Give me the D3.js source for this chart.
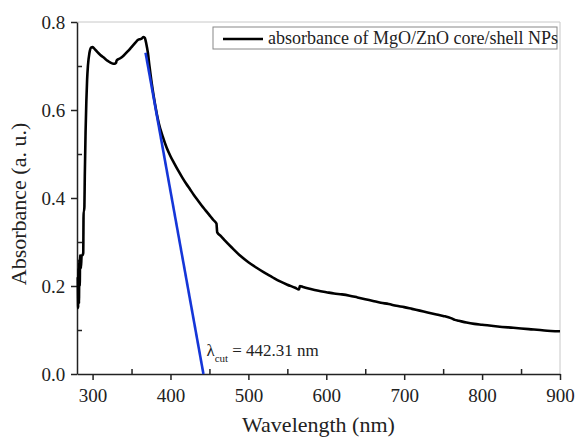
<!DOCTYPE html>
<html>
<head>
<meta charset="utf-8">
<script src="https://cdn.jsdelivr.net/npm/d3@7"></script>
<style>
  body { margin: 0; background: #fff; }
</style>
</head>
<body>
<svg id="chart" width="576" height="438" font-family="'Liberation Serif', serif"></svg>
<script>
const wavelength = [281, 281.5, 282, 282.5, 283, 283.5, 284, 285, 286, 287, 288, 288.5, 289, 289.5, 290, 291, 292, 293, 294, 296, 298,
  300, 303, 306, 310, 315, 320, 325, 328, 330, 331, 335, 340, 345, 350, 355, 358, 361, 363, 365, 367, 369, 371, 373, 376, 380, 385,
  390, 395, 400, 405, 410, 415, 420, 425, 430, 435, 440, 445, 450, 455, 459, 460, 465, 470, 480, 490, 500, 510, 520, 530, 540, 550,
  560, 565, 566, 570, 580, 590, 600, 610, 620, 630, 640, 650, 660, 670, 680, 690, 700, 710, 720, 730, 740, 750, 760, 765, 770, 780,
  790, 800, 820, 840, 860, 880, 900];
const absorbance = [0.22, 0.15, 0.24, 0.16, 0.26, 0.20, 0.27, 0.24, 0.27, 0.27, 0.275, 0.37, 0.37, 0.38, 0.45, 0.55, 0.62, 0.67, 0.70, 0.73, 0.742,
  0.743, 0.738, 0.732, 0.725, 0.718, 0.711, 0.706, 0.705, 0.707, 0.713, 0.717, 0.724, 0.733, 0.743, 0.753, 0.759, 0.761, 0.762, 0.766, 0.764, 0.75, 0.73, 0.70, 0.66, 0.615, 0.57,
  0.54, 0.515, 0.495, 0.478, 0.462, 0.447, 0.433, 0.42, 0.407, 0.395, 0.383, 0.372, 0.361, 0.35, 0.342, 0.322, 0.313, 0.303, 0.285, 0.268, 0.254, 0.242, 0.231, 0.221, 0.211, 0.203,
  0.196, 0.192, 0.2, 0.198, 0.193, 0.189, 0.186, 0.183, 0.181, 0.178, 0.174, 0.17, 0.166, 0.162, 0.159, 0.155, 0.152, 0.148, 0.144, 0.14, 0.136, 0.132, 0.127, 0.123, 0.121, 0.117,
  0.114, 0.112, 0.108, 0.105, 0.102, 0.099, 0.097];

// tangent used for the cut-off wavelength
const tangentWl = [368, 442.31];
const tangentAbs = [0.73, 0];

const xTicks = [300, 400, 500, 600, 700, 800, 900];
const xMinor = [350, 450, 550, 650, 750, 850];
const yTicks = [0, 0.2, 0.4, 0.6, 0.8];
const yMinor = [0.1, 0.3, 0.5, 0.7];

const seriesName = "absorbance of MgO/ZnO core/shell NPs";
const cutLabel = "= 442.31 nm";

const serif = "'Liberation Serif', serif";

const margin = {top: 22, right: 16, bottom: 64, left: 77};
const width = 576 - margin.left - margin.right;
const height = 438 - margin.top - margin.bottom;

const svg = d3.select("#chart");
const g = svg.append("g").attr("transform", `translate(${margin.left},${margin.top})`);

const x = d3.scaleLinear().domain([280, 900]).range([0, width]);
const y = d3.scaleLinear().domain([0, 0.8]).range([height, 0]);

// light frame top / right
g.append("path")
  .attr("d", `M0,0H${width}V${height}`)
  .attr("fill", "none")
  .attr("stroke", "#c8c8c8")
  .attr("stroke-width", 1);

// x axis
const xAxis = g.append("g").attr("transform", `translate(0,${height})`)
  .call(d3.axisBottom(x).tickValues(xTicks).tickFormat(d3.format("d")).tickSize(6).tickSizeOuter(0));
g.append("g").attr("transform", `translate(0,${height})`)
  .call(d3.axisTop(x).tickValues(xMinor).tickFormat("").tickSize(5).tickSizeOuter(0))
  .select(".domain").remove();

const yAxis = g.append("g")
  .call(d3.axisLeft(y).tickValues(yTicks).tickFormat(d3.format(".1f")).tickSize(6).tickSizeOuter(0));
g.append("g")
  .call(d3.axisRight(y).tickValues(yMinor).tickFormat("").tickSize(5).tickSizeOuter(0))
  .select(".domain").remove();

g.selectAll(".domain").attr("stroke", "#222").attr("stroke-width", 1.5);
g.selectAll(".tick line").attr("stroke", "#222").attr("stroke-width", 1.5);
xAxis.selectAll("text").attr("font-size", 19).attr("dy", "1.0em");
yAxis.selectAll("text").attr("font-size", 19).attr("dx", "-0.15em");

// curve
const line = d3.line()
  .x((d, i) => x(wavelength[i]))
  .y(d => y(d))
  .curve(d3.curveMonotoneX);

g.append("path")
  .datum(absorbance)
  .attr("d", line)
  .attr("fill", "none")
  .attr("stroke", "#000")
  .attr("stroke-width", 2.6)
  .attr("stroke-linejoin", "round");

// tangent
g.append("line")
  .attr("x1", x(tangentWl[0])).attr("y1", y(tangentAbs[0]))
  .attr("x2", x(tangentWl[1])).attr("y2", y(tangentAbs[1]))
  .attr("stroke", "#1536d8")
  .attr("stroke-width", 2.6);

// lambda cut label
const lab = g.append("text")
  .attr("x", x(442.31) + 3)
  .attr("y", y(0.042))
  .attr("font-size", 17);
lab.append("tspan").text("λ");
lab.append("tspan").attr("font-size", 11).attr("dy", 6).text("cut");
lab.append("tspan").attr("dy", -6).attr("dx", 4).text(cutLabel);

// legend
const legend = svg.append("g").attr("transform", "translate(213,27)");
legend.append("rect")
  .attr("width", 344).attr("height", 22)
  .attr("fill", "#fff")
  .attr("stroke", "#888")
  .attr("stroke-width", 1);
legend.append("line")
  .attr("x1", 10).attr("x2", 50)
  .attr("y1", 12).attr("y2", 12)
  .attr("stroke", "#000").attr("stroke-width", 2.6);
legend.append("text")
  .attr("x", 55).attr("y", 17)
  .attr("font-size", 18)
  .text(seriesName);

// axis titles
svg.append("text")
  .attr("x", margin.left + x(590)).attr("y", 432)
  .attr("text-anchor", "middle")
  .attr("font-size", 22)
  .text("Wavelength (nm)");

svg.append("text")
  .attr("transform", `translate(26,${margin.top + height / 2 + 6}) rotate(-90)`)
  .attr("text-anchor", "middle")
  .attr("font-size", 22)
  .text("Absorbance (a. u.)");

svg.selectAll("g").attr("font-family", serif);
svg.selectAll("text").attr("font-family", serif).attr("fill", "#222");
</script>
</body>
</html>
